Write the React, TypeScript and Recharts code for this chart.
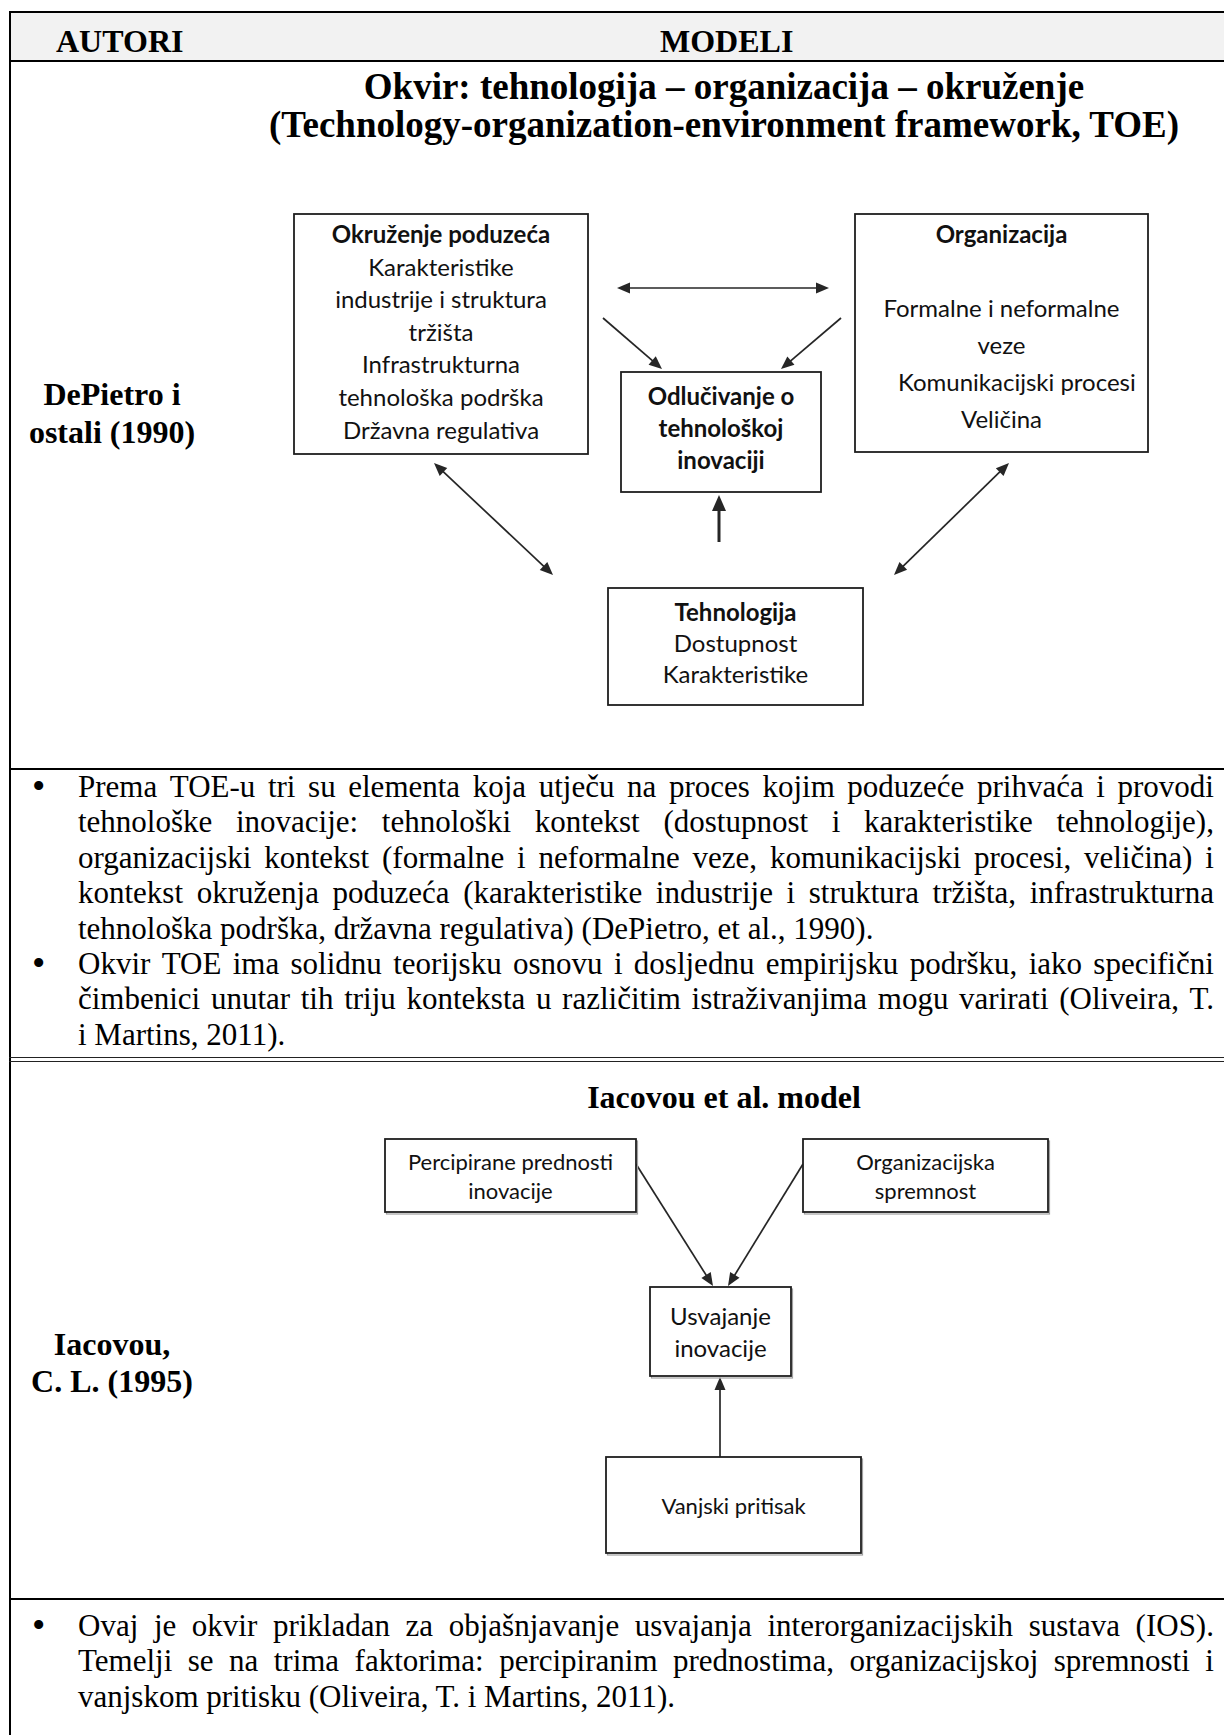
import React from 'react';
import { ScatterChart, Scatter, XAxis, YAxis, ReferenceLine } from 'recharts';

// ---- text content ----
const headerLabels = ['AUTORI', 'MODELI'];
const toeTitle = [
  'Okvir: tehnologija – organizacija – okruženje',
  '(Technology-organization-environment framework, TOE)',
];
const toeAuthor = ['DePietro i', 'ostali (1990)'];
const iacovouTitle = 'Iacovou et al. model';
const iacovouAuthor = ['Iacovou,', 'C. L. (1995)'];

const toeBullets = [
  [
    'Prema TOE-u tri su elementa koja utječu na proces kojim poduzeće prihvaća i provodi',
    'tehnološke inovacije: tehnološki kontekst (dostupnost i karakteristike tehnologije),',
    'organizacijski kontekst (formalne i neformalne veze, komunikacijski procesi, veličina) i',
    'kontekst okruženja poduzeća (karakteristike industrije i struktura tržišta, infrastrukturna',
    'tehnološka podrška, državna regulativa) (DePietro, et al., 1990).',
  ],
  [
    'Okvir TOE ima solidnu teorijsku osnovu i dosljednu empirijsku podršku, iako specifični',
    'čimbenici unutar tih triju konteksta u različitim istraživanjima mogu varirati (Oliveira, T.',
    'i Martins, 2011).',
  ],
];
const iacovouBullets = [
  [
    'Ovaj je okvir prikladan za objašnjavanje usvajanja interorganizacijskih sustava (IOS).',
    'Temelji se na trima faktorima: percipiranim prednostima, organizacijskoj spremnosti i',
    'vanjskom pritisku (Oliveira, T. i Martins, 2011).',
  ],
];

// ---- diagram data (page px) ----
const toeNodes = [
  {
    id: 'okruzenje', x: 441, y: 334, bold: 1,
    lines: ['Okruženje poduzeća', 'Karakteristike', 'industrije i struktura', 'tržišta', 'Infrastrukturna', 'tehnološka podrška', 'Državna regulativa'],
  },
  {
    id: 'organizacija', x: 1001.5, y: 333, bold: 1,
    lines: ['Organizacija', '', 'Formalne i neformalne', 'veze', '\u00a0\u00a0\u00a0\u00a0\u00a0Komunikacijski procesi', 'Veličina'],
  },
  { id: 'odlucivanje', x: 721, y: 432, bold: 3, lines: ['Odlučivanje o', 'tehnološkoj', 'inovaciji'] },
  { id: 'tehnologija', x: 735.5, y: 646.5, bold: 1, lines: ['Tehnologija', 'Dostupnost', 'Karakteristike'] },
];
const toeLinks = [
  { x1: 617, y1: 288, x2: 829, y2: 288, both: true },
  { x1: 603, y1: 318, x2: 662, y2: 369 },
  { x1: 841, y1: 318, x2: 781, y2: 369 },
  { x1: 719, y1: 542, x2: 719, y2: 495, heavy: true },
  { x1: 434, y1: 463, x2: 553, y2: 575, both: true },
  { x1: 1009, y1: 463, x2: 894, y2: 575, both: true },
];

const iacovouNodes = [
  { id: 'percipirane', x: 510.5, y: 1175.5, bold: 0, lines: ['Percipirane prednosti', 'inovacije'] },
  { id: 'spremnost', x: 925.5, y: 1175.5, bold: 0, lines: ['Organizacijska', 'spremnost'] },
  { id: 'usvajanje', x: 720.5, y: 1331.5, bold: 0, lines: ['Usvajanje', 'inovacije'] },
  { id: 'pritisak', x: 733.5, y: 1505, bold: 0, lines: ['Vanjski pritisak'] },
];
const iacovouLinks = [
  { x1: 636, y1: 1164, x2: 713, y2: 1286 },
  { x1: 803, y1: 1164, x2: 728, y2: 1286 },
  { x1: 720, y1: 1457, x2: 720, y2: 1377 },
];

// ---- styles ----
const SERIF = "'Liberation Serif', 'Times New Roman', serif";
const SANS = "Lato, 'Open Sans', sans-serif";
const LH = 42.5;
const BODY_LH = 35.4;
const BODY_SIZE = 31;

const boxStyle: Record<string, any> = {
  okruzenje: { w: 294, h: 240, first: 19.5, gap: 32.6, font: 24 },
  organizacija: { w: 293, h: 238, first: 19.5, gap: 37, font: 24 },
  odlucivanje: { w: 200, h: 120, first: 23, gap: 32, font: 24 },
  tehnologija: { w: 255, h: 117, first: 23, gap: 31, font: 24 },
  percipirane: { w: 251, h: 73, first: 22, gap: 29, font: 22, shadow: true },
  spremnost: { w: 245, h: 73, first: 22, gap: 29, font: 22, shadow: true },
  usvajanje: { w: 141, h: 89, first: 28, gap: 32, font: 24, shadow: true },
  pritisak: { w: 255, h: 96, first: 48, gap: 30, font: 22, shadow: true },
};

const Arrow = (props: any) => {
  const { x1, y1, x2, y2, both, heavy } = props;
  const ang = Math.atan2(y2 - y1, x2 - x1);
  const len = heavy ? 16 : 13;
  const half = heavy ? 7 : 5.5;
  const head = (x: number, y: number, a: number) => {
    const bx = x - len * Math.cos(a);
    const by = y - len * Math.sin(a);
    const px = -Math.sin(a) * half;
    const py = Math.cos(a) * half;
    return `${x},${y} ${bx + px},${by + py} ${bx - px},${by - py}`;
  };
  const sx = both ? x1 + (len - 3) * Math.cos(ang) : x1;
  const sy = both ? y1 + (len - 3) * Math.sin(ang) : y1;
  const ex = x2 - (len - 3) * Math.cos(ang);
  const ey = y2 - (len - 3) * Math.sin(ang);
  return (
    <g>
      <line x1={sx} y1={sy} x2={ex} y2={ey} stroke="#262626" strokeWidth={heavy ? 3 : 1.7} />
      <polygon points={head(x2, y2, ang)} fill="#262626" />
      {both && <polygon points={head(x1, y1, ang + Math.PI)} fill="#262626" />}
    </g>
  );
};

const NodeBox = (props: any) => {
  const { cx, cy } = props;
  const node = props.payload || props;
  const s = boxStyle[node.id];
  const x0 = cx - s.w / 2;
  const y0 = cy - s.h / 2;
  return (
    <g>
      {s.shadow && (
        <rect x={x0 + 1.5} y={y0 + 2} width={s.w} height={s.h} fill="none" stroke="#a0a0a0" strokeWidth={1.2} />
      )}
      <rect x={x0} y={y0} width={s.w} height={s.h} fill="#fff" stroke="#1e1e1e" strokeWidth={1.8} />
      {node.lines.map((t: string, i: number) => (
        <text
          key={i}
          x={cx}
          y={y0 + s.first + i * s.gap}
          textAnchor="middle"
          dominantBaseline="central"
          fontFamily={SANS}
          fontSize={s.font}
          fontWeight={i < node.bold ? 700 : 400}
          fill="#111"
        >
          {t}
        </text>
      ))}
    </g>
  );
};

const Diagram = ({ nodes, links, left, top, width, height }: any) => (
  <div style={{ position: 'absolute', left, top, width, height }}>
    <ScatterChart width={width} height={height} margin={{ top: 0, right: 0, bottom: 0, left: 0 }}>
      <XAxis type="number" dataKey="x" domain={[left, left + width]} allowDataOverflow hide />
      <YAxis type="number" dataKey="y" domain={[top, top + height]} allowDataOverflow reversed hide />
      {links.map((l: any, i: number) => (
        <ReferenceLine
          key={i}
          ifOverflow="visible"
          segment={[{ x: l.x1, y: l.y1 }, { x: l.x2, y: l.y2 }]}
          shape={(p: any) => <Arrow {...p} both={l.both} heavy={l.heavy} />}
        />
      ))}
      <Scatter data={nodes} isAnimationActive={false} shape={(p: any) => <NodeBox {...p} />} />
    </ScatterChart>
  </div>
);

// one line of serif text, top of its line box given
const Line = ({ left, top, width, align, bold, size = 32, lh = LH, children }: any) => (
  <div
    style={{
      position: 'absolute',
      left,
      top,
      width,
      height: lh,
      lineHeight: `${lh}px`,
      fontSize: size,
      fontWeight: bold ? 700 : 400,
      textAlign: align || 'left',
      whiteSpace: 'nowrap',
    }}
  >
    {children}
  </div>
);

const TEXT_LEFT = 78;
const TEXT_WIDTH = 1136;

const JustifiedLine = ({ text, top, justify }: any) =>
  justify ? (
    <div
      style={{
        position: 'absolute', left: TEXT_LEFT, top, width: TEXT_WIDTH, height: BODY_LH,
        lineHeight: `${BODY_LH}px`, fontSize: BODY_SIZE, display: 'flex', justifyContent: 'space-between',
        whiteSpace: 'nowrap',
      }}
    >
      {text.split(' ').map((w: string, i: number) => <span key={i}>{w}</span>)}
    </div>
  ) : (
    <Line left={TEXT_LEFT} top={top} width={TEXT_WIDTH} lh={BODY_LH} size={BODY_SIZE}>{text}</Line>
  );

const Bullets = ({ paragraphs, top }: any) => {
  const rows: any[] = [];
  let r = 0;
  paragraphs.forEach((lines: string[], p: number) => {
    lines.forEach((line, i) => {
      const t = top + r * BODY_LH;
      if (i === 0) {
        rows.push(
          <div key={`b${p}`} style={{ position: 'absolute', left: 32, top: t, lineHeight: `${BODY_LH}px`, fontSize: 38 }}>•</div>
        );
      }
      rows.push(<JustifiedLine key={`${p}-${i}`} text={line} top={t} justify={i < lines.length - 1} />);
      r += 1;
    });
  });
  return <>{rows}</>;
};

const Rule = ({ top, h = 2, left = 9, width = 1215, color = '#000' }: any) => (
  <div style={{ position: 'absolute', top, left, width, height: h, background: color }} />
);

export default function App() {
  return (
    <div
      style={{
        position: 'absolute', left: 0, top: 0, width: 1224, height: 1735, overflow: 'hidden',
        background: '#fff', fontFamily: SERIF, color: '#000',
      }}
    >
      {/* table frame */}
      <div style={{ position: 'absolute', left: 10, top: 12, width: 1214, height: 49, background: '#f2f2f2' }} />
      <Rule top={11} h={2} />
      <Rule top={60} h={2} />
      <div style={{ position: 'absolute', left: 9, top: 11, width: 1.6, height: 1724, background: '#000' }} />
      <Rule top={768} h={2} />
      <Rule top={1057} h={1.3} color="#222" />
      <Rule top={1061} h={1.3} color="#222" />
      <Rule top={1598} h={2.2} />

      {/* header */}
      <Line left={56} top={20} bold>{headerLabels[0]}</Line>
      <Line left={660} top={20} bold>{headerLabels[1]}</Line>

      {/* TOE row */}
      <Line left={224} top={66} width={1000} align="center" bold size={37}>{toeTitle[0]}</Line>
      <Line left={224} top={104} width={1000} align="center" bold size={37}>{toeTitle[1]}</Line>
      <Line left={10} top={373} width={204} align="center" bold>{toeAuthor[0]}</Line>
      <Line left={10} top={411} width={204} align="center" bold>{toeAuthor[1]}</Line>
      <Diagram nodes={toeNodes} links={toeLinks} left={260} top={180} width={940} height={560} />
      <Bullets paragraphs={toeBullets} top={769} />

      {/* Iacovou row */}
      <Line left={224} top={1076} width={1000} align="center" bold>{iacovouTitle}</Line>
      <Line left={10} top={1323} width={204} align="center" bold>{iacovouAuthor[0]}</Line>
      <Line left={10} top={1360} width={204} align="center" bold>{iacovouAuthor[1]}</Line>
      <Diagram nodes={iacovouNodes} links={iacovouLinks} left={360} top={1100} width={720} height={480} />
      <Bullets paragraphs={iacovouBullets} top={1608} />
    </div>
  );
}
